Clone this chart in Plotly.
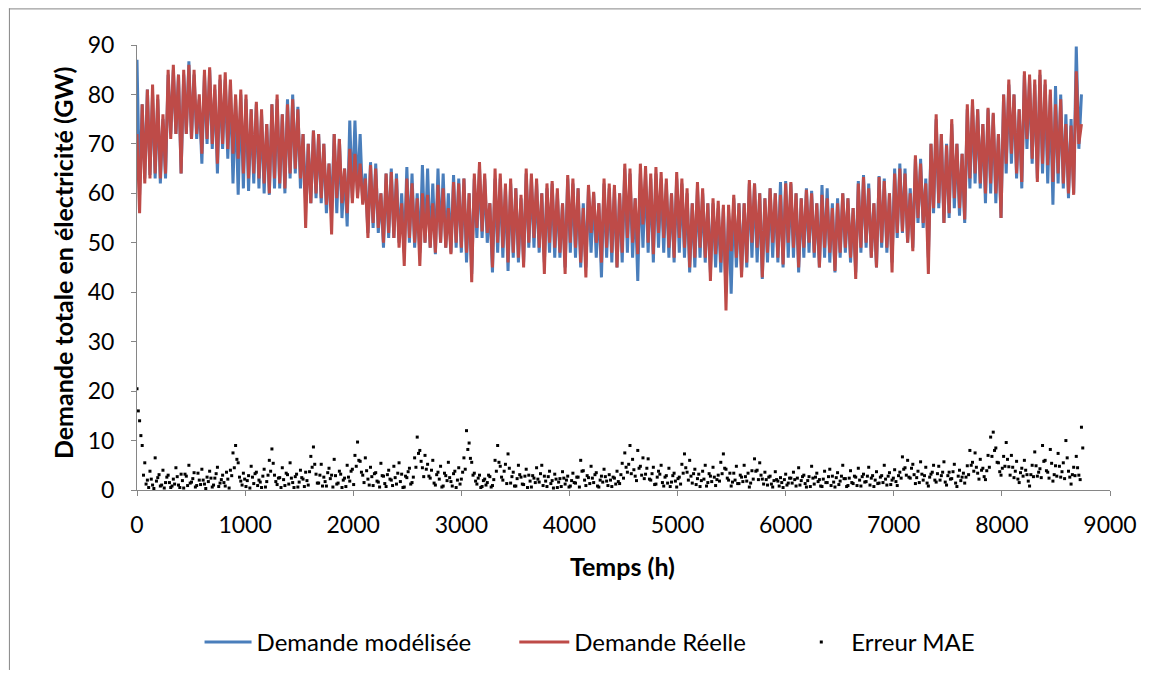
import plotly.graph_objects as go

# ---- data (hourly demand, GW) ----
# daily alternating samples: peaks at hour 48*k, troughs at hour 48*k+24
red_peaks = [
    72, 78, 81, 82, 80, 76, 85, 86, 84, 85,
    86, 85, 80, 85, 85.5, 82, 84, 84.5, 83, 80,
    81, 80, 77, 78.5, 77, 74, 78, 80, 76, 78,
    79, 77, 72, 70, 72.7, 72, 70, 66, 72, 71,
    65, 69, 68, 66, 63, 65.7, 65, 60, 64, 64.3,
    63, 58, 63, 62, 59, 60, 59.7, 58, 61.7, 61,
    57, 62.3, 62, 63, 60, 64, 66.3, 64, 58, 65,
    64, 62, 63, 61, 59.7, 65, 64, 63, 60, 62,
    62.5, 61, 58, 63.7, 63, 61, 57, 61.7, 60.3, 58,
    63, 62, 61.7, 60, 66, 65, 59, 66, 65.5, 64,
    65.3, 64.3, 63, 60, 64.3, 63, 61, 58, 62.3, 61,
    58, 59, 58.5, 57.7, 57.7, 59.7, 58, 58, 62.7, 62,
    60, 59, 61, 60, 59.7, 62, 62.3, 60, 59, 60.7,
    60, 58, 59.7, 59, 57, 58, 60, 59, 57, 62,
    63.3, 61, 58, 63.3, 62.5, 60, 64, 65, 64, 60,
    67.7, 66, 62, 70, 76, 72, 69.7, 75, 70, 68,
    78, 79, 77, 74, 77.3, 76.3, 72, 80, 83, 80,
    77, 84.7, 84, 83, 85, 83, 81, 78, 79, 74,
    73.7, 84.7, 74,
]
red_troughs = [
    56, 62, 63, 64, 63, 64, 71, 72, 64, 72,
    71, 72, 68, 71, 70, 66, 70, 69, 68, 67,
    64, 63, 64, 63, 62, 60, 63, 62, 61, 64,
    65, 63, 53, 58, 60, 59, 57.7, 51.7, 59, 58,
    56, 58, 59, 57.7, 51, 54, 53, 50, 52, 51,
    49, 45.3, 51, 50, 45.3, 50, 49, 48, 50, 49,
    47.7, 50, 49, 48, 42, 53, 52.3, 52, 45, 50,
    49, 46, 48, 47, 45, 50, 51, 49, 43.7, 50,
    49, 48, 43.7, 50, 49, 46, 43, 52, 50, 46,
    49, 48, 45, 48, 51, 50, 47.7, 53.7, 50, 47.7,
    52, 51, 49, 47, 51, 49, 45, 47, 49, 47,
    42.3, 47.7, 46, 36.3, 48.3, 47, 43, 46, 50, 49,
    43, 48, 50, 47, 45.6, 50, 49, 45, 49, 50,
    48, 45, 49, 48, 44.3, 48, 49, 47, 42.7, 49,
    50, 47, 45, 50, 49, 44, 52, 52.3, 50, 48.3,
    55, 54, 43.7, 57, 58, 54, 56, 59, 57, 54.7,
    63, 64, 62, 60, 62, 60, 55, 66, 68, 64,
    62.3, 71, 67, 62.3, 66, 65.7, 62.3, 64, 62, 60,
    59.7, 70,
]
blue_peaks = [
    87, 78, 81, 80, 79, 75, 84, 85, 84, 84,
    86.7, 84, 79, 84, 85, 81, 83, 83, 82, 79,
    80, 79, 77, 78, 76, 74, 78, 79, 76, 79,
    80, 77.5, 72, 70, 72.7, 72, 70, 66, 72, 71,
    65, 74.7, 74.7, 72, 64, 66.3, 66, 60, 64, 65,
    64, 60, 65.3, 64, 60, 65.7, 65, 62, 65, 64,
    60, 63.7, 63, 63, 60, 63, 65, 63, 58, 63,
    63, 61, 62, 61, 59, 64, 63, 62, 60, 61,
    62, 60, 58, 63, 62, 61, 58, 61, 60, 58,
    62, 61, 61, 60, 65, 64, 59, 64, 64, 63,
    64, 63, 62, 60, 63, 62, 60, 58, 61, 60,
    58, 58, 57, 57, 56, 59, 58, 58, 62, 62,
    60, 59, 61, 60, 62.3, 62.5, 62, 60, 59, 61,
    60.5, 58, 61.7, 61, 58, 59, 60, 59, 57, 62.5,
    63.7, 62, 58, 63.5, 63, 60, 65, 66, 65, 61,
    67, 67, 63, 70, 75, 72, 70, 74, 70, 68,
    77, 78, 77, 74, 77, 76, 72, 80, 82, 80,
    77, 84, 83, 82, 84, 82, 80, 81.7, 80, 76,
    75, 89.7, 80,
]
blue_troughs = [
    59.7, 63, 63.7, 63, 62, 63, 72, 72, 64, 72,
    71, 71, 66, 70, 69, 64, 69, 67, 62, 59.7,
    61, 60.5, 62, 61, 60, 59.7, 61, 61, 60, 63,
    64, 61, 58, 58, 59, 58, 56, 56, 56, 55,
    53.3, 59, 60, 58, 52, 53, 52, 49, 51, 51,
    50, 48, 50, 49, 48, 50, 49, 47.7, 50, 49,
    48, 49, 48, 46, 43.7, 51, 51, 50, 44, 48,
    47, 44.3, 47, 46, 46, 49, 49, 48, 46, 48,
    47, 47, 45, 48, 47, 45, 45, 48, 47, 43,
    47, 46, 45, 46, 48, 47, 42.3, 49, 48, 46,
    49, 48, 47, 46, 48, 47, 44, 45, 47, 46,
    44, 45, 44, 40, 39.7, 45, 44, 45, 47, 46,
    42.7, 46, 47, 46, 45, 47, 47, 44, 47, 48,
    47, 45, 47, 46, 44, 47, 48, 46, 44, 48,
    49, 47, 45, 49, 48, 46, 51, 52, 50, 49,
    54, 53, 47, 56, 57, 54, 55, 57, 55.5, 54,
    61, 62, 61, 58, 60, 58, 55, 64, 66, 63,
    61, 69, 66, 63, 64, 62, 57.7, 62, 61, 59,
    60, 69,
]
# MAE error samples: daytime (hour 24*d) and night-time (hour 24*d+12)
error_day = [
    20.5, 14, 9, 5.5, 2, 3.8, 1, 6.5, 2.5, 0.8, 4, 1.5, 3, 0.5,
    2.2, 4.5, 1, 3.2, 0.4, 2.8, 5, 1.6, 3.5, 0.9, 2, 4.2, 1.2, 2.6,
    3.8, 0.6, 2.4, 4.6, 1.4, 3, 0.8, 2.2, 4, 7.5, 9, 5.5, 1.8, 3.4,
    0.7, 2.9, 4.8, 1.3, 3.6, 2, 0.5, 4.2, 1.7, 6, 8.3, 3, 1.1, 2.5,
    4.5, 0.9, 3.1, 5.5, 1.5, 2.7, 0.6, 4, 2.2, 3.6, 1, 6.8, 8.7, 3.2,
    1.4, 5.2, 2.6, 0.8, 4.4, 3, 6.2, 1.2, 3.8, 0.5, 2.4, 5, 1.8, 4.2,
    7, 9.7, 5.8, 3, 6.5, 2.2, 4.6, 0.9, 3.5, 1.6, 5.4, 2.8, 0.7, 4,
    2, 4.8, 1.2, 5.5, 3.2, 0.6, 2.5, 4.4, 1.5, 6.5, 10.7, 8, 4.5, 7,
    5.2, 2.4, 6, 1, 3.6, 4.8, 0.8, 2.9, 5.6, 1.7, 3.3, 0.5, 4.5, 2.2,
    6.5, 12, 9.5, 5.6, 3.4, 1.2, 3, 0.7, 2.2, 1.5, 2.7, 0.9, 6, 9,
    4.8, 2, 5.2, 7.3, 1.4, 3.6, 0.8, 5, 2.6, 1.1, 4.2, 3, 0.6, 2.4,
    4.5, 1.6, 5, 2.8, 0.7, 3.8, 1.9, 3.2, 0.5, 2.3, 3.7, 1.2, 2.8, 0.8,
    3.4, 1.4, 2.6, 6, 3.9, 0.9, 2.5, 4.8, 1.5, 3.5, 0.6, 2.8, 4.2, 1.8,
    3.1, 0.7, 2.4, 3.8, 1.3, 5.4, 7.5, 3.6, 9, 6.2, 2.8, 8, 4.8, 6.5,
    3.2, 6.3, 2, 4.6, 1.2, 3.8, 5, 0.8, 2.9, 4.4, 1.6, 3.4, 0.6, 2.6,
    5.2, 7.3, 3.6, 6, 1.4, 4.2, 2.3, 0.7, 3.8, 5, 1.5, 2.8, 4.6, 0.9,
    3, 5.6, 7.3, 4.2, 2, 0.8, 3.4, 4.8, 1.3, 2.6, 5, 1.8, 0.6, 3.9,
    6.3, 4, 5.5, 2.2, 3.6, 1, 2.8, 0.6, 3.7, 1.8, 2.5, 0.5, 3.2, 1.4,
    2.4, 3.6, 0.8, 4.5, 1.9, 3, 0.6, 2.7, 4.8, 1.2, 3.4, 2.1, 0.7, 3.8,
    1.5, 4.2, 2.8, 0.6, 3.5, 1.8, 5, 2.3, 0.9, 3.9, 1.3, 2.6, 4.4, 0.8,
    3.2, 1.7, 4.6, 2.4, 0.7, 3.7, 1.4, 2.9, 5, 1, 3.5, 2, 4.1, 0.9,
    3.6, 6.7, 4.5, 6, 2.4, 5.2, 1.3, 3.8, 5.7, 2, 4.6, 0.8, 3.2, 5,
    1.6, 4.8, 2.9, 5.7, 1, 3.6, 2.3, 5.2, 0.7, 4, 2.6, 1.4, 4.9, 8,
    5.6, 7.5, 3.4, 6.2, 4.4, 2.1, 7, 10.7, 11.7, 8.5, 5.5, 3, 6.8, 9.6,
    4.7, 7, 2.5, 5.8, 1.5, 4.4, 6, 3.1, 0.8, 5, 7.7, 2.8, 4.3, 9,
    6, 3.6, 8.2, 1.8, 4.9, 7.4, 2.6, 5.5, 10, 3.8, 1.2, 4.6, 6.8, 3,
    12.7,
]
error_night = [
    16, 11, 3, 1.2, 0.5, 2.2, 0.3, 1.8, 3.1, 1, 0.4, 2.6, 1.5, 0.8,
    1.2, 2.7, 0.5, 1.9, 3.2, 0.9, 1.4, 2.3, 0.6, 3.4, 1.1, 2, 0.3, 1.7,
    2.4, 1, 3.3, 0.7, 2.1, 1.5, 3.6, 0.4, 2.9, 4.5, 6.2, 2.6, 1, 2.2,
    1.9, 0.4, 2.6, 3.3, 0.9, 1.6, 2.8, 0.6, 3, 3.8, 5.4, 1.7, 2.4, 0.5,
    2.1, 3.4, 1.2, 2.4, 0.5, 3.2, 1.6, 2.5, 0.7, 1.9, 3.7, 4.6, 5.2, 1.4,
    3, 0.8, 1.7, 3.5, 2.3, 0.6, 2.9, 1.4, 3.2, 2, 0.7, 2.6, 3.8, 1.1,
    4.8, 6, 3.6, 1.5, 3.9, 1, 2.7, 3.3, 1.8, 0.6, 2.9, 1.3, 3.1, 2.2,
    0.9, 2.5, 3.4, 1.7, 0.5, 2.8, 3.7, 1.2, 2.6, 4.6, 7.4, 5.8, 2.7, 4.2,
    2.8, 4, 1.4, 3.1, 2.2, 0.6, 3.4, 1.9, 2.5, 0.8, 3.8, 2, 1.2, 3.6,
    4.2, 8.2, 6.4, 3, 1.8, 2.4, 0.5, 1.9, 1, 3, 0.6, 2.1, 3.8, 5.6,
    2.6, 3.8, 1.3, 4.4, 2.7, 0.8, 2.3, 3.1, 1.2, 2.8, 0.5, 1.8, 2.9, 1.5,
    2.2, 3.3, 0.9, 1.8, 2.7, 1.3, 0.4, 2.2, 1.6, 0.7, 2.4, 2, 0.6, 1.9,
    1.5, 2.6, 0.6, 3.8, 2, 2.9, 1.3, 2.4, 3.1, 0.8, 2, 1.6, 2.7, 0.9,
    2, 2.6, 1.2, 1.7, 3.1, 2.4, 4.6, 5.2, 3.3, 4.1, 1.9, 4.4, 3, 2.3,
    4.4, 2.2, 3.3, 1.1, 2.6, 3.2, 1.5, 2.6, 1.4, 0.7, 2.9, 1.8, 2.3, 1.2,
    3.4, 4.5, 2, 2.8, 3.3, 1.1, 3.2, 1.9, 2.2, 0.8, 3.3, 1.7, 2.6, 2.1,
    1.8, 3.3, 4.4, 2.4, 3.4, 1.6, 2, 1.3, 3, 1.7, 2.7, 3.4, 1.4, 2.2,
    3.8, 2.1, 3, 1.2, 2.1, 2.6, 1.2, 1.9, 2.1, 0.8, 1.5, 2.1, 1, 2.4,
    1.4, 2.1, 2.4, 1, 2.7, 1.3, 1.9, 0.7, 2.4, 2.6, 1.7, 0.8, 2.2, 1.5,
    2.7, 0.9, 1.6, 2.5, 1.1, 2.8, 2.3, 0.7, 2.4, 1.5, 2.8, 0.9, 2, 2.7,
    1.6, 2.8, 1, 2.9, 2, 1.3, 2.6, 1.5, 2.2, 2.8, 1.1, 2.4, 1.7, 2.9,
    2.4, 4.2, 3, 2.6, 4.4, 3.1, 2.5, 1.5, 3.2, 2.9, 1.4, 2.6, 3.6, 2,
    3.3, 2, 3.6, 1.6, 2.9, 2.2, 3.7, 1.4, 2.8, 1.9, 3.4, 2.6, 3.1, 5,
    3.8, 4.6, 2.2, 4, 2.7, 3.9, 4.6, 6.8, 8, 5.6, 3.7, 4.4, 4.8, 6.2,
    3, 4.6, 3.8, 2.2, 3.5, 2.8, 4, 1.8, 3.1, 2.7, 4.9, 3.6, 2.5, 5.8,
    3.9, 2.4, 5.4, 3.1, 2.8, 4.8, 3.7, 2.3, 6.5, 2.6, 3.1, 2.9, 4.5, 2.1,
    8.5,
]
x_ticks = [0, 1000, 2000, 3000, 4000, 5000, 6000, 7000, 8000, 9000]
y_ticks = [0, 10, 20, 30, 40, 50, 60, 70, 80, 90]


def interleave(peaks, troughs):
    xs, ys = [], []
    for k, p in enumerate(peaks):
        xs.append(48 * k)
        ys.append(p)
        if k < len(troughs):
            xs.append(48 * k + 24)
            ys.append(troughs[k])
    return xs, ys


bx, by = interleave(blue_peaks, blue_troughs)
rx, ry = interleave(red_peaks, red_troughs)
ex, ey = [], []
for d in range(len(error_day)):
    ex.append(24 * d)
    ey.append(error_day[d])
    ex.append(24 * d + 12)
    ey.append(error_night[d])

FONT = "Lato, 'Open Sans', sans-serif"
AXIS_COLOR = "#868686"

# figure sits at page offset (8, 8) because of the body margin
OFF = 8
W, H = 1141, 669
L, R, T, B = 129, 32, 37, 182
pw, ph = W - L - R, H - T - B


def px_x(p):
    return (p - OFF - L) / pw


def px_y(p):
    return (H - B - (p - OFF)) / ph


fig = go.Figure()
fig.add_trace(go.Scatter(x=bx, y=by, mode="lines", name="Demande modélisée",
                         line=dict(color="#4a7ebb", width=3), legend="legend"))
fig.add_trace(go.Scatter(x=rx, y=ry, mode="lines", name="Demande Réelle",
                         line=dict(color="#be4b48", width=3), legend="legend2"))
fig.add_trace(go.Scatter(x=ex, y=ey, mode="markers", name="Erreur MAE",
                         marker=dict(color="black", size=3, symbol="square"),
                         legend="legend3"))


def leg(x_left, width):
    return dict(orientation="h", x=px_x(x_left), xanchor="left",
                y=px_y(649), yanchor="middle", font=dict(size=24),
                itemwidth=width, bgcolor="rgba(0,0,0,0)", borderwidth=0)


fig.update_layout(
    width=W, height=H, autosize=False,
    margin=dict(l=L, r=R, t=T, b=B),
    paper_bgcolor="white", plot_bgcolor="white",
    font=dict(family=FONT, size=23, color="black"),
    showlegend=True,
    legend=leg(200, 47),
    legend2=leg(517, 50),
    legend3=leg(796, 50),
    xaxis=dict(range=[0, 9000], tickvals=x_ticks, ticks="outside", ticklen=5,
               tickcolor=AXIS_COLOR, showline=True, linecolor=AXIS_COLOR,
               linewidth=1, showgrid=False, zeroline=False,
               tickfont=dict(size=23), ticklabelstandoff=9),
    yaxis=dict(range=[0, 90], tickvals=y_ticks, ticks="outside", ticklen=5,
               tickcolor=AXIS_COLOR, showline=True, linecolor=AXIS_COLOR,
               linewidth=1, showgrid=False, zeroline=False,
               tickfont=dict(size=23), ticklabelstandoff=12),
    annotations=[
        dict(text="<b>Demande totale en électricité (GW)</b>", xref="paper",
             yref="paper", x=px_x(62), y=px_y(266), textangle=-90,
             showarrow=False, font=dict(size=25), xanchor="center",
             yanchor="middle"),
        dict(text="<b>Temps (h)</b>", xref="paper", yref="paper",
             x=px_x(626), y=px_y(572), showarrow=False, font=dict(size=25),
             xanchor="center", yanchor="middle"),
    ],
    shapes=[
        dict(type="line", xref="paper", yref="paper", x0=px_x(8), x1=px_x(1149),
             y0=px_y(8.5), y1=px_y(8.5), line=dict(color=AXIS_COLOR, width=1)),
        dict(type="line", xref="paper", yref="paper", x0=px_x(8.5), x1=px_x(8.5),
             y0=px_y(8), y1=px_y(677), line=dict(color=AXIS_COLOR, width=1)),
    ],
)

fig.write_html("out.html")
